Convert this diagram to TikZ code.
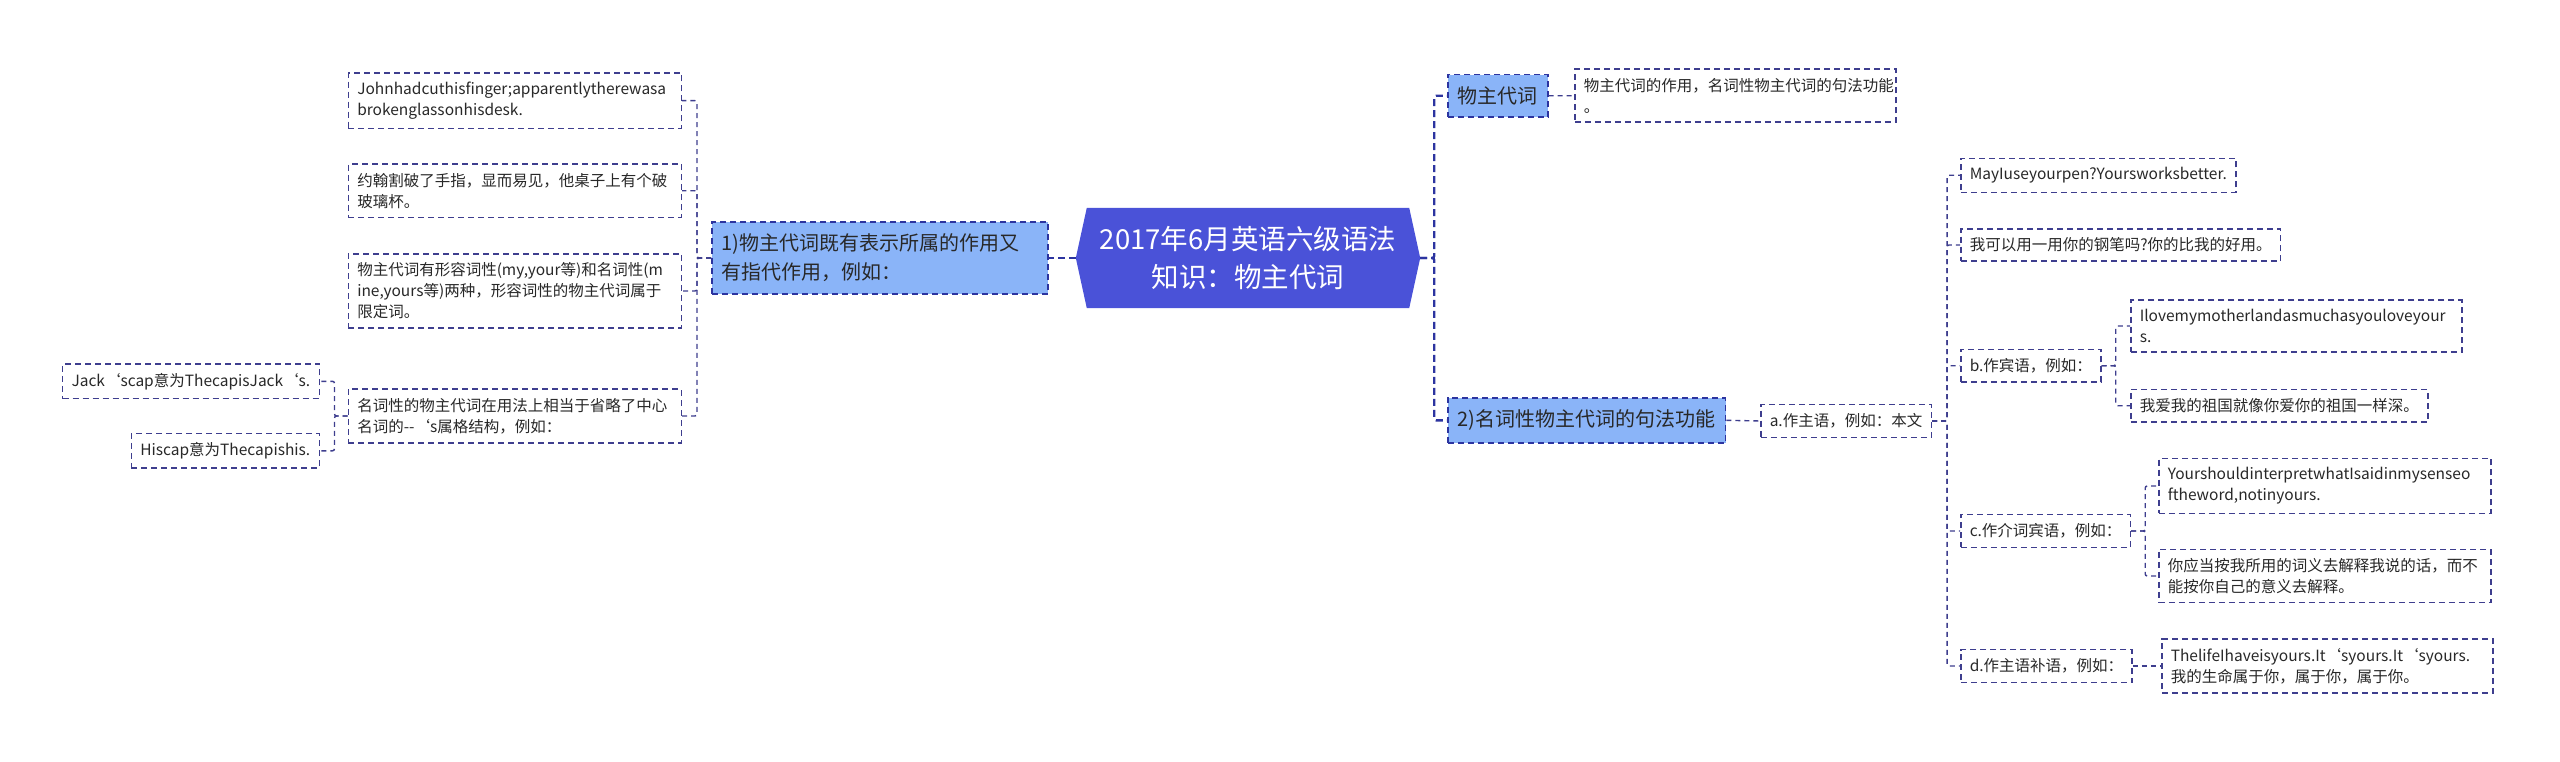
\documentclass[tikz,border=0pt]{standalone}
\usepackage{fontspec}
\newfontfamily\cjkfont{Noto Sans CJK SC}
\usepackage{tikz}
\usetikzlibrary{positioning, backgrounds, calc}

\definecolor{rootblue}{RGB}{74,82,216}
\definecolor{topicblue}{RGB}{138,180,248}
\definecolor{topicline}{RGB}{44,52,160}
\definecolor{leafline}{RGB}{62,62,142}
\definecolor{inkgray}{RGB}{40,40,40}

\tikzset{
  rootnode/.style={font=\cjkfont\fontsize{27.5pt}{38pt}\selectfont, text=white, align=center,
    minimum width=322pt, minimum height=100pt, inner sep=0pt},
  topic/.style={draw=topicline, fill=topicblue, dash pattern=on 6pt off 4pt, line width=1.6pt,
    font=\cjkfont\fontsize{20pt}{29pt}\selectfont, text=inkgray, align=left,
    inner xsep=10pt, inner ysep=12pt},
  leaf/.style={draw=leafline, dash pattern=on 6pt off 4pt, line width=1.5pt, fill=white,
    font=\cjkfont\fontsize{15.5pt}{21pt}\selectfont, text=inkgray, align=left,
    inner xsep=9pt, inner ysep=9pt},
  trunk/.style={draw=topicline, line width=2.4pt, dash pattern=on 7pt off 4pt},
  twig/.style={draw=leafline, line width=1.4pt, dash pattern=on 5pt off 4pt, rounded corners=2pt},
}

\begin{document}
\begin{tikzpicture}[x=1pt, y=-1pt]
    \useasboundingbox (0,0) rectangle (2560,762);

    % centre
    \node[rootnode] (root) at (1248,258) {2017年6月英语六级语法\\知识：物主代词};
    \begin{scope}[on background layer]
        \fill[rootblue] (root.north west) -- (root.north east) -- ([xshift=11pt]root.east)
            -- (root.south east) -- (root.south west) -- ([xshift=-11pt]root.west) -- cycle;
    \end{scope}

    % left branch
    \node[topic, text width=316pt, anchor=west] (one) at (711,258) {1)物主代词既有表示所属的作用又\\有指代作用，例如：};
    \node[leaf, text width=315pt, anchor=east] (ex1) at (682,100.7) {Johnhadcuthisfinger;apparentlytherewasa\\brokenglassonhisdesk.};
    \node[leaf, text width=315pt, anchor=east] (ex2) at (682,190.8) {约翰割破了手指，显而易见，他桌子上有个破\\玻璃杯。};
    \node[leaf, text width=315pt, anchor=east] (ex3) at (682,291) {物主代词有形容词性(my,your等)和名词性(m\\ine,yours等)两种，形容词性的物主代词属于\\限定词。};
    \node[leaf, text width=315pt, anchor=east] (ex4) at (682,416) {名词性的物主代词在用法上相当于省略了中心\\名词的-{}-‘s属格结构，例如：};
    \node[leaf, anchor=east] (jack) at (320,381.3) {Jack‘scap意为ThecapisJack‘s.};
    \node[leaf, anchor=east] (his) at (320,450.8) {Hiscap意为Thecapishis.};

    % right branch
    \node[topic, anchor=west] (pro) at (1447,95.8) {物主代词};
    \node[leaf, text width=303pt, anchor=west] (prodesc) at (1574,95.7) {物主代词的作用，名词性物主代词的句法功能\\。};
    \node[topic, anchor=west] (two) at (1447,420.3) {2)名词性物主代词的句法功能};
    \node[leaf, anchor=west] (subj) at (1760,421) {a.作主语，例如：本文};
    \node[leaf, anchor=west] (maypen) at (1960,175.3) {MayIuseyourpen?Yoursworksbetter.};
    \node[leaf, anchor=west] (maypencn) at (1960,245) {我可以用一用你的钢笔吗?你的比我的好用。};
    \node[leaf, anchor=west] (obj) at (1960,365.7) {b.作宾语，例如：};
    \node[leaf, text width=313pt, anchor=west] (loveen) at (2130,326) {Ilovemymotherlandasmuchasyouloveyour\\s.};
    \node[leaf, anchor=west] (lovecn) at (2130,405.7) {我爱我的祖国就像你爱你的祖国一样深。};
    \node[leaf, anchor=west] (prep) at (1960,531) {c.作介词宾语，例如：};
    \node[leaf, text width=314pt, anchor=west] (sensen) at (2158,486) {YourshouldinterpretwhatIsaidinmysenseo\\ftheword,notinyours.};
    \node[leaf, text width=314pt, anchor=west] (sensecn) at (2158,576) {你应当按我所用的词义去解释我说的话，而不\\能按你自己的意义去解释。};
    \node[leaf, anchor=west] (compl) at (1960,666) {d.作主语补语，例如：};
    \node[leaf, text width=313pt, anchor=west] (lifeen) at (2161,666) {ThelifeIhaveisyours.It‘syours.It‘syours.\\我的生命属于你，属于你，属于你。};

    % connectors
    \draw[trunk] ([xshift=-11pt]root.west) -- (one.east);
    \foreach \c in {pro,two}
        \draw[trunk, rounded corners=2pt] ([xshift=11pt]root.east) -- ++(14,0) |- (\c.west);
    \foreach \c in {ex1,ex2,ex3,ex4}
        \draw[twig] (one.west) -- ++(-14,0) |- (\c.east);
    \foreach \c in {jack,his}
        \draw[twig] (ex4.west) -- ++(-13,0) |- (\c.east);
    \draw[twig] (pro.east) -- (prodesc.west);
    \draw[twig] (two.east) -- (subj.west);
    \foreach \c in {maypen,maypencn,obj,prep,compl}
        \draw[twig] (subj.east) -- ++(15,0) |- (\c.west);
    \foreach \c in {loveen,lovecn}
        \draw[twig] (obj.east) -- ++(14,0) |- (\c.west);
    \foreach \c in {sensen,sensecn}
        \draw[twig] (prep.east) -- ++(14,0) |- (\c.west);
    \draw[twig] (compl.east) -- (lifeen.west);
\end{tikzpicture}
\end{document}
